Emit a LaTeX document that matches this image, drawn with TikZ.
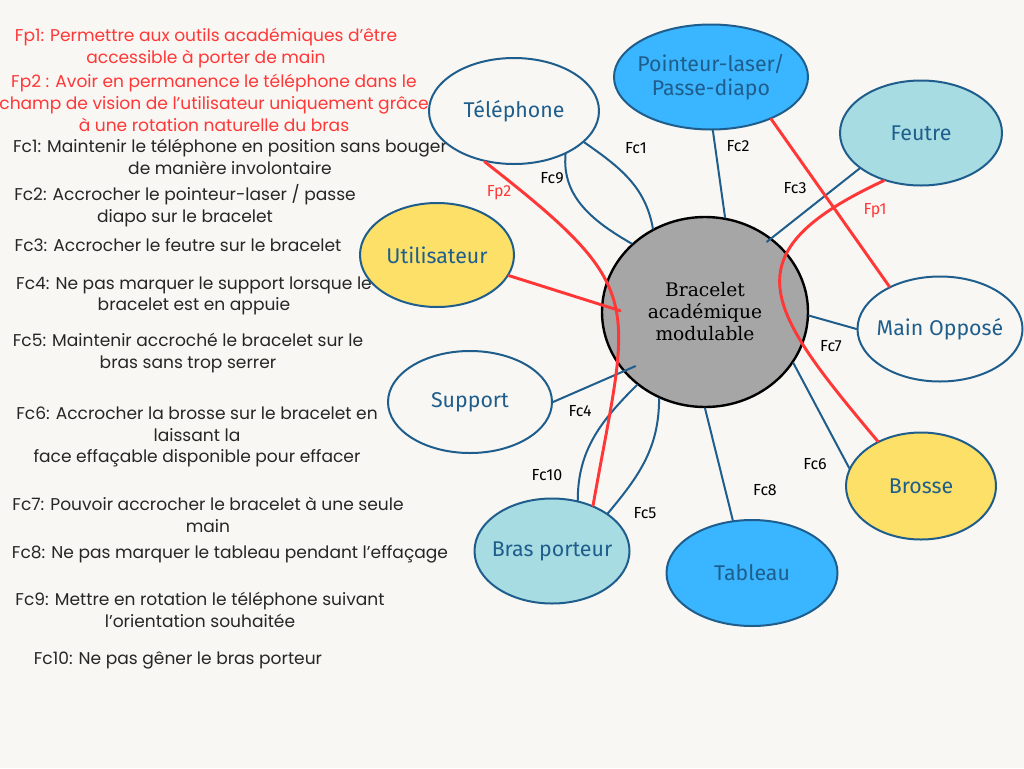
\documentclass[tikz,border=0pt]{standalone}
\usepackage{fontspec}
\setmainfont{Poppins}
\newfontfamily\bullefont{Fira Sans}
\newfontfamily\titrefont{DejaVu Serif}
\usetikzlibrary{shapes.geometric}
\definecolor{fond}{HTML}{F8F7F3}
\definecolor{trait}{HTML}{1F5E8C}
\definecolor{rouge}{HTML}{FF3737}
\definecolor{bleuvif}{HTML}{3AB5FF}
\definecolor{turquoise}{HTML}{A8DCE3}
\definecolor{jaune}{HTML}{FCE068}
\definecolor{gris}{HTML}{A6A6A6}
\begin{document}
\begin{tikzpicture}[x=0.75pt,y=-0.75pt, line join = round, line cap = round]
	\tikzset{bulle/.style={ellipse,draw=trait,line width=1.5pt,inner xsep=-30pt,inner ysep=-10pt,text=trait,font=\bullefont\fontsize{16}{18}\selectfont,align=center},
		taille/.style 2 args={minimum width=#1pt,minimum height=#2pt},
		fc/.style={draw=trait,line width=1.5pt},
		fp/.style={draw=rouge,line width=2.2pt},
		etiq/.style={font=\bullefont\fontsize{12}{14}\selectfont},
		texte/.style={align=center,text=black!85,font=\fontsize{12.8}{16.3}\selectfont}}
	\fill[fond] (0,0) rectangle (1024,768);
	\useasboundingbox (0,0) rectangle (1024,768);
	% cahier des charges
	\node[texte,rouge] (tfp1) at (206,48) {Fp1: Permettre aux outils académiques d’être\\accessible à porter de main};
	\node[texte,rouge] (tfp2) at (214,103) {Fp2 : Avoir en permanence le téléphone dans le\\champ de vision de l'utilisateur uniquement grâce\\à une rotation naturelle du bras};
	\node[texte] (tfc1) at (230,157) {Fc1: Maintenir le téléphone en position sans bouger\\de manière involontaire};
	\node[texte] (tfc2) at (185,206) {Fc2: Accrocher le pointeur-laser / passe\\diapo sur le bracelet};
	\node[texte] (tfc3) at (178,245) {Fc3: Accrocher le feutre sur le bracelet};
	\node[texte] (tfc4) at (194,296) {Fc4: Ne pas marquer le support lorsque le\\bracelet est en appuie};
	\node[texte] (tfc5) at (188,353) {Fc5: Maintenir accroché le bracelet sur le\\bras sans trop serrer};
	\node[texte] (tfc6) at (197,437) {Fc6: Accrocher la brosse sur le bracelet en\\laissant la\\face effaçable disponible pour effacer};
	\node[texte] (tfc7) at (208,515) {Fc7: Pouvoir accrocher le bracelet à une seule\\main};
	\node[texte] (tfc8) at (230,554) {Fc8: Ne pas marquer le tableau pendant l’effaçage};
	\node[texte] (tfc9) at (200,610) {Fc9: Mettre en rotation le téléphone suivant\\l’orientation souhaitée};
	\node[texte] (tfc10) at (178,660) {Fc10: Ne pas gêner le bras porteur};
	% elements
	\node[bulle,taille={127.5}{79.5},fill=fond] (tel) at (514,111) {Téléphone};
	\node[bulle,taille={145.5}{78.75},fill=bleuvif] (point) at (711,77) {Pointeur-laser/\\Passe-diapo};
	\node[bulle,taille={121.5}{78.75},fill=turquoise] (feutre) at (921,133) {Feutre};
	\node[bulle,taille={115.5}{78},fill=jaune] (util) at (437,255) {Utilisateur};
	\node[bulle,taille={123.75}{78.75},fill=fond] (main) at (940,329) {Main Opposé};
	\node[bulle,taille={123}{76.5},fill=fond] (support) at (470,402) {Support};
	\node[bulle,taille={112.5}{80.25},fill=jaune] (brosse) at (921,486) {Brosse};
	\node[bulle,taille={116.25}{78.75},fill=turquoise] (bras) at (552,551) {Bras porteur};
	\node[bulle,taille={128.25}{79.5},fill=bleuvif] (tableau) at (752,573) {Tableau};
	\node[ellipse,draw=black,line width=1.8pt,fill=gris,inner sep=-20pt,taille={154.5}{142.5},align=center,font=\titrefont\fontsize{14}{16.5}\selectfont] (brac) at (705,312) {Bracelet\\académique\\modulable};
	% fonctions de contrainte
	\draw[fc] (tel.-24) to[out=-35,in=100] (brac.122);
	\draw[fc] (tel.-40) to[out=-95,in=150] (brac.137);
	\draw[fc] (point.-88) -- (brac.78);
	\draw[fc,shorten >=-4.5pt] (feutre.-150) -- (brac.48);
	\draw[fc] (main.180) -- (brac.-2);
	\draw[fc] (brac.-30) -- (brosse.166);
	\draw[fc] (brac.-90) -- (tableau.110);
	\draw[fc] (brac.-118) to[out=-90,in=50] (bras.34);
	\draw[fc] (brac.-133) to[out=-135,in=90] (bras.63);
	\draw[fc,shorten >=-10pt] (support.0) -- (brac.216);
	% fonctions principales
	\draw[fp] (tel.-120) to[out=-38,in=80,looseness=1.5] (bras.48);
	\draw[fp,shorten >=-15pt] (util.-16) -- (brac.176);
	\draw[fp] (feutre.-128) to[out=-155,in=130,looseness=1.7] (brosse.134);
	\draw[fp] (point.-35) -- (main.140);
	% etiquettes
	\node[etiq] (lfc1) at (636,148) {Fc1};
	\node[etiq] (lfc9) at (552,178) {Fc9};
	\node[etiq] (lfc2) at (738,146) {Fc2};
	\node[etiq] (lfc3) at (795,188) {Fc3};
	\node[etiq] (lfc7) at (831,346) {Fc7};
	\node[etiq] (lfc4) at (580,411) {Fc4};
	\node[etiq] (lfc6) at (815,464) {Fc6};
	\node[etiq] (lfc10) at (547,475) {Fc10};
	\node[etiq] (lfc8) at (765,490) {Fc8};
	\node[etiq] (lfc5) at (645,513) {Fc5};
	\node[etiq,rouge] (lfp2) at (499,193) {Fp2};
	\node[etiq,rouge] (lfp1) at (875,211) {Fp1};
\end{tikzpicture}
\end{document}
